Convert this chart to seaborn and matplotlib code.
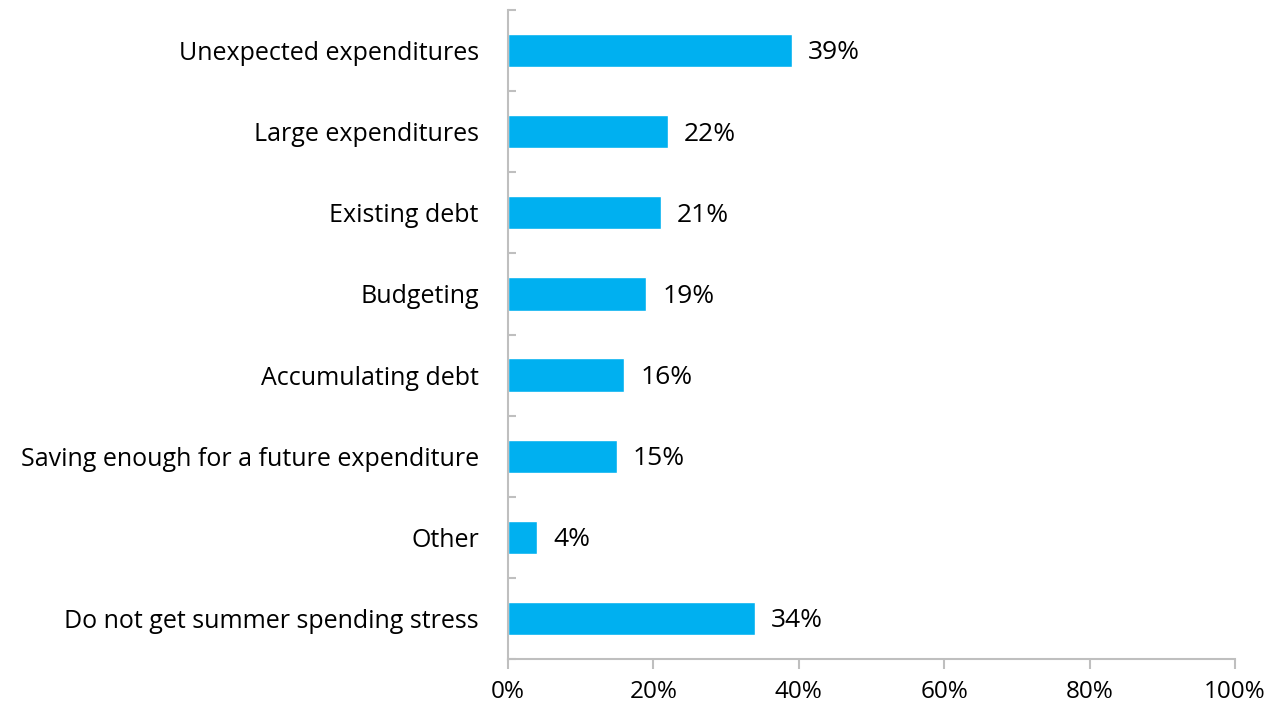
import numpy as np
import pandas as pd
import seaborn as sns
from matplotlib import pyplot as plt
from matplotlib.ticker import FixedLocator, PercentFormatter

categories = ['Unexpected expenditures', 'Large expenditures', 'Existing debt',
              'Budgeting', 'Accumulating debt', 'Saving enough for a future expenditure',
              'Other', 'Do not get summer spending stress']
values = [39, 22, 21, 19, 16, 15, 4, 34]

sns.set_style('white')
plt.rcParams['font.family'] = ['Open Sans', 'DejaVu Sans']

df = pd.DataFrame({'category': categories, 'value': values})

fig = plt.figure(figsize=(12.72, 7.09), dpi=100)
ax = fig.add_axes([508 / 1272, 50 / 709, 727 / 1272, 649 / 709])

sns.barplot(data=df, x='value', y='category', color='#00B0F0', saturation=1,
            width=0.41, ax=ax)

for i, v in enumerate(values):
    ax.text(v + 2.2, i + 0.03, str(v) + '%', va='center', ha='left', fontsize=19, color='black')

ax.set_xlim(0, 100)
ax.set_ylim(len(categories) - 0.5, -0.5)
ax.set_xticks(np.arange(0, 101, 20))
ax.xaxis.set_major_formatter(PercentFormatter(decimals=0))
ax.set_xlabel('')
ax.set_ylabel('')

# category boundary ticks
ax.yaxis.set_minor_locator(FixedLocator(np.arange(-0.5, len(categories), 1)))
ax.tick_params(axis='y', which='major', left=True, length=0, pad=21, labelsize=18,
               labelcolor='black')
ax.tick_params(axis='y', which='minor', left=True, direction='in', length=6, width=1.5,
               color='#BFBFBF')
ax.tick_params(axis='x', which='major', bottom=True, direction='out', length=7, width=1.5,
               color='#BFBFBF', labelsize=17.5, labelcolor='black', pad=8)

for side in ['top', 'right']:
    ax.spines[side].set_visible(False)
for side in ['left', 'bottom']:
    ax.spines[side].set_color('#BFBFBF')
    ax.spines[side].set_linewidth(1.5)

plt.savefig('out.png', dpi=100)
